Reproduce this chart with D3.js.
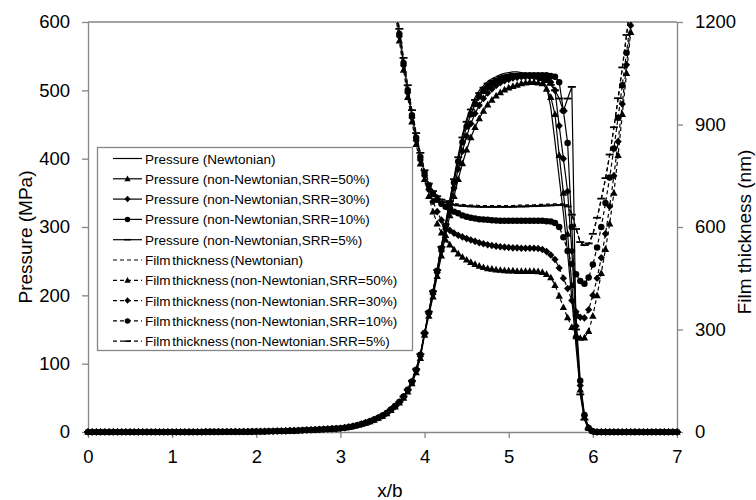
<!DOCTYPE html>
<html><head><meta charset="utf-8">
<script src="https://cdn.jsdelivr.net/npm/d3@7"></script>
<style>body{margin:0;background:#fff} svg{display:block} text{font-family:"Liberation Sans",Arial,sans-serif}</style>
</head><body><svg id="c" width="756" height="500"></svg>
<script>
// ---- data ----
const xPressure = [
0,0.05,0.1,0.15,0.2,0.25,0.3,0.35,0.4,0.45,0.5,0.55,0.6,0.65,0.7,0.75,0.8,0.85,0.9,0.95,
1,1.05,1.1,1.15,1.2,1.25,1.3,1.35,1.4,1.45,1.5,1.55,1.6,1.65,1.7,1.75,1.8,1.85,1.9,1.95,
2,2.05,2.1,2.15,2.2,2.25,2.3,2.35,2.4,2.45,2.5,2.55,2.6,2.65,2.7,2.75,2.8,2.85,2.9,2.95,
3,3.05,3.1,3.15,3.2,3.25,3.3,3.35,3.4,3.45,3.5,3.55,3.6,3.65,3.7,3.75,3.8,3.85,3.9,3.95,
4,4.05,4.1,4.15,4.2,4.25,4.3,4.35,4.4,4.45,4.5,4.55,4.6,4.65,4.7,4.75,4.8,4.85,4.9,4.95,
5,5.05,5.1,5.15,5.2,5.25,5.3,5.35,5.4,5.45,5.5,5.55,5.6,5.65,5.7,5.75,5.8,5.85,5.9,5.95,
6,6.05,6.1,6.15,6.2,6.25,6.3,6.35,6.4,6.45,6.5,6.55,6.6,6.65,6.7,6.75,6.8,6.85,6.9,6.95,7];

const pNewtonian = [
0,0,0,0,0,0,0,0,0,0,0,0,0,0,0,0,0,0,0,0,
0,0,0,0.1,0.1,0.1,0.1,0.1,0.2,0.2,0.2,0.2,0.3,0.3,0.3,0.4,0.4,0.5,0.5,0.6,
0.7,0.8,0.9,1.0,1.1,1.3,1.4,1.6,1.8,2.0,2.2,2.5,2.8,3.1,3.4,3.7,4.0,4.3,4.6,5.0,
5.5,6.3,7.3,8.5,9.9,11.6,13.6,15.8,18.2,21,24,28,33,38,44,52,62,75,92,114,
145,176,206,238,272,306,340,372,405,435,458,475,490,500,507,513,517,520,523,525,
526,527,527,526,525,523,521,518,515,505,475,425,372,320,262,195,125,60,20,4,
0,0,0,0,0,0,0,0,0,0,0,0,0,0,0,0,0,0,0,0,0];

const pSRR50 = [
0,0,0,0,0,0,0,0,0,0,0,0,0,0,0,0,0,0,0,0,
0,0,0,0.1,0.1,0.1,0.1,0.1,0.2,0.2,0.2,0.2,0.3,0.3,0.3,0.4,0.4,0.5,0.5,0.6,
0.7,0.8,0.9,1.0,1.1,1.3,1.4,1.6,1.8,2.0,2.2,2.5,2.8,3.1,3.4,3.7,4.0,4.3,4.6,5.0,
5.4,6.2,7.2,8.4,9.8,11.4,13.3,15.4,17.8,20.5,23.5,27,32,37,43,50,59,71,87,108,
142,170,198,228,258,288,317,345,370,393,413,431,446,459,470,479,486,492,497,501,
504,506,508,510,511,512,512,511,510,502,490,465,405,350,290,215,140,62,22,6,
1,0,0,0,0,0,0,0,0,0,0,0,0,0,0,0,0,0,0,0,0];

const pSRR30 = [
0,0,0,0,0,0,0,0,0,0,0,0,0,0,0,0,0,0,0,0,
0,0,0,0.1,0.1,0.1,0.1,0.1,0.2,0.2,0.2,0.2,0.3,0.3,0.3,0.4,0.4,0.5,0.5,0.6,
0.7,0.8,0.9,1.0,1.1,1.3,1.4,1.6,1.8,2.0,2.2,2.5,2.8,3.1,3.4,3.7,4.0,4.3,4.6,5.0,
5.5,6.3,7.3,8.5,9.9,11.5,13.5,15.6,18,20.8,23.8,27.5,32.5,37.5,44,51,61,73,90,111,
144,173,202,233,265,297,328,357,385,411,433,451,466,478,488,496,502,507,511,514,
516,518,519,520,520,520,520,519,518,516,512,500,448,400,352,265,155,68,24,6,
1,0,0,0,0,0,0,0,0,0,0,0,0,0,0,0,0,0,0,0,0];

const pSRR10 = [
0,0,0,0,0,0,0,0,0,0,0,0,0,0,0,0,0,0,0,0,
0,0,0,0.1,0.1,0.1,0.1,0.1,0.2,0.2,0.2,0.2,0.3,0.3,0.3,0.4,0.4,0.5,0.5,0.6,
0.7,0.8,0.9,1.0,1.1,1.3,1.4,1.6,1.8,2.0,2.2,2.5,2.8,3.1,3.4,3.7,4.0,4.3,4.6,5.0,
5.5,6.3,7.3,8.5,9.9,11.6,13.6,15.8,18.2,21,24,28,33,38,44,52,62,74,91,113,
145,175,205,236,269,302,334,365,396,424,447,465,480,491,499,505,510,513,516,518,
519,520,521,521,522,522,522,522,522,522,521,520,512,470,423,300,170,75,25,6,
1,0,0,0,0,0,0,0,0,0,0,0,0,0,0,0,0,0,0,0,0];

const pSRR5 = [
0,0,0,0,0,0,0,0,0,0,0,0,0,0,0,0,0,0,0,0,
0,0,0,0.1,0.1,0.1,0.1,0.1,0.2,0.2,0.2,0.2,0.3,0.3,0.3,0.4,0.4,0.5,0.5,0.6,
0.7,0.8,0.9,1.0,1.1,1.3,1.4,1.6,1.8,2.0,2.2,2.5,2.8,3.1,3.4,3.7,4.0,4.3,4.6,5.0,
5.5,6.3,7.3,8.5,9.9,11.6,13.6,15.8,18.2,21,24,28,33,38,44,52,62,75,92,114,
145,176,206,237,271,304,338,370,402,431,454,472,486,496,504,510,514,517,520,522,
523,524,524,524,523,521,519,517,515,512,508,500,488,470,488,505,150,55,18,4,
0,0,0,0,0,0,0,0,0,0,0,0,0,0,0,0,0,0,0,0,0];

const xFilm = [
3.55,3.6,3.65,3.7,3.75,3.8,3.85,3.9,3.95,4,
4.05,4.1,4.15,4.2,4.25,4.3,4.35,4.4,4.45,4.5,
4.55,4.6,4.65,4.7,4.75,4.8,4.85,4.9,4.95,5,
5.05,5.1,5.15,5.2,5.25,5.3,5.35,5.4,5.45,5.5,
5.55,5.6,5.65,5.7,5.75,5.8,5.85,5.9,5.95,6,
6.05,6.1,6.15,6.2,6.25,6.3,6.35,6.4,6.45,6.5];

const hNewtonian = [
1435,1348,1262,1175,1090,1010,938,872,815,767,
730,708,694,684,677,672,669,667,666,665,
664,664,663,663,663,663,663,663,663,663,
663,664,664,664,665,665,666,666,667,667,
668,668,668,665,640,598,555,545,548,578,
625,680,740,810,890,975,1065,1160,1260,1360];

const hSRR50 = [
1400,1315,1230,1145,1060,980,908,842,785,740,
690,645,610,583,563,548,534,522,512,504,
497,491,486,482,479,477,475,474,473,472,
472,471,471,471,471,471,470,468,462,452,
430,398,365,335,307,285,275,276,295,340,
400,465,535,610,700,810,930,1050,1170,1290];

const hSRR30 = [
1415,1330,1245,1158,1073,993,920,853,796,750,
710,675,645,620,602,590,582,576,571,566,
562,558,554,551,548,546,544,542,541,540,
539,539,538,538,538,538,537,534,528,518,
505,480,450,420,385,352,336,334,358,400,
450,510,580,660,750,850,960,1075,1190,1300];

const hSRR10 = [
1425,1338,1252,1165,1080,1000,927,861,805,758,
722,697,680,668,659,652,645,640,634,630,
627,625,623,622,621,620,619,618,618,618,
618,618,618,618,618,618,618,618,617,616,
612,600,570,530,492,462,442,434,452,490,
540,600,670,745,830,920,1015,1110,1210,1310];

const hSRR5 = [
1440,1352,1266,1180,1095,1015,942,875,817,766,
727,705,690,680,673,668,665,663,662,661,
660,660,659,659,659,659,659,659,659,659,
659,660,660,660,661,661,662,662,663,663,
664,664,664,660,636,594,556,547,552,580,
627,683,743,812,892,977,1067,1162,1262,1362];

const xTicks = [0,1,2,3,4,5,6,7];
const pressureTicks = [0,100,200,300,400,500,600];
const filmTicks = [0,300,600,900,1200];

const legendLabels = [
"Pressure (Newtonian)",
"Pressure (non-Newtonian,SRR=50%)",
"Pressure (non-Newtonian,SRR=30%)",
"Pressure (non-Newtonian,SRR=10%)",
"Pressure (non-Newtonian,SRR=5%)",
"Film thickness (Newtonian)",
"Film thickness (non-Newtonian,SRR=50%)",
"Film thickness (non-Newtonian.SRR=30%)",
"Film thickness (non-Newtonian,SRR=10%)",
"Film thickness (non-Newtonian.SRR=5%)"];

// ---- chart ----
const svg = d3.select('#c');
const L = 88, R = 677, T = 22, B = 432;
const GRAY = '#868686';
const x = d3.scaleLinear().domain([0,7]).range([L,R]);
const yP = d3.scaleLinear().domain([0,600]).range([B,T]);
const yH = d3.scaleLinear().domain([0,1200]).range([B,T]);

svg.append('defs').append('clipPath').attr('id','clipF')
  .append('rect').attr('x',L-10).attr('y',T).attr('width',R-L+20).attr('height',B-T+10);

const series = [
  {ys:pNewtonian, xs:xPressure, y:yP, dashed:false, marker:null},
  {ys:pSRR50, xs:xPressure, y:yP, dashed:false, marker:'tri'},
  {ys:pSRR30, xs:xPressure, y:yP, dashed:false, marker:'dia'},
  {ys:pSRR10, xs:xPressure, y:yP, dashed:false, marker:'cir'},
  {ys:pSRR5, xs:xPressure, y:yP, dashed:false, marker:'dash'},
  {ys:hNewtonian, xs:xFilm, y:yH, dashed:true, marker:null},
  {ys:hSRR50, xs:xFilm, y:yH, dashed:true, marker:'tri'},
  {ys:hSRR30, xs:xFilm, y:yH, dashed:true, marker:'dia'},
  {ys:hSRR10, xs:xFilm, y:yH, dashed:true, marker:'cir'},
  {ys:hSRR5, xs:xFilm, y:yH, dashed:true, marker:'dash'}
];
series.forEach((s,i)=>s.label = legendLabels[i]);

const markerPath = {
  tri: 'M0,-3.9L3.7,2.8L-3.7,2.8Z',
  dia: 'M0,-3.8L3.6,0L0,3.8L-3.6,0Z',
  cir: d3.symbol(d3.symbolCircle, 33)(),
  dash: 'M-4,0H4'
};
function styleMarker(sel, type){
  if(type==='dash') sel.attr('fill','none').attr('stroke','#000').attr('stroke-width',1.8);
  else sel.attr('fill','#000').attr('stroke','none');
}

// axes
const gx = svg.append('g').attr('transform',`translate(0,${B})`)
  .call(d3.axisBottom(x).tickValues(xTicks).tickSizeInner(6).tickSizeOuter(0).tickPadding(12).tickFormat(d3.format('d')));
const gyl = svg.append('g').attr('transform',`translate(${L},0)`)
  .call(d3.axisLeft(yP).tickValues(pressureTicks).tickSizeInner(6).tickSizeOuter(0).tickPadding(12).tickFormat(d3.format('d')));
const gyr = svg.append('g').attr('transform',`translate(${R},0)`)
  .call(d3.axisRight(yH).tickValues(filmTicks).tickSizeInner(6).tickSizeOuter(0).tickPadding(12).tickFormat(d3.format('d')));
[gx,gyl,gyr].forEach(g=>{
  g.select('.domain').attr('stroke',GRAY).attr('stroke-width',1.3);
  g.selectAll('.tick line').attr('stroke',GRAY).attr('stroke-width',1.3);
  g.selectAll('.tick text').attr('fill','#000').style('font-size','18.5px')
    .style('font-family','"Liberation Sans",Arial,sans-serif');
});
svg.append('line').attr('x1',L).attr('x2',R).attr('y1',T).attr('y2',T)
  .attr('stroke',GRAY).attr('stroke-width',1.3);

// titles
svg.append('text').attr('transform','translate(32,237) rotate(-90)')
  .attr('text-anchor','middle').style('font-size','19px').text('Pressure (MPa)');
svg.append('text').attr('transform','translate(751,232) rotate(-90)')
  .attr('text-anchor','middle').style('font-size','19px').text('Film thickness (nm)');
svg.append('text').attr('x',390).attr('y',497)
  .attr('text-anchor','middle').style('font-size','19px').text('x/b');

// series
const plot = svg.append('g');
series.forEach(s=>{
  const pts = s.xs.map((xv,i)=>({x:xv, y:s.ys[i]}));
  const g = plot.append('g');
  if(s.dashed) g.attr('clip-path','url(#clipF)');
  g.append('path').datum(pts)
    .attr('d', d3.line().x(d=>x(d.x)).y(d=>s.y(d.y)))
    .attr('fill','none').attr('stroke','#000').attr('stroke-width',1.2)
    .attr('stroke-dasharray', s.dashed ? '4,3' : null);
  if(s.marker){
    g.selectAll('path.m').data(pts).join('path').attr('class','m')
      .attr('d', markerPath[s.marker])
      .attr('transform', d=>`translate(${x(d.x)},${s.y(d.y)})`)
      .call(styleMarker, s.marker);
  }
});

// legend
const lg = svg.append('g');
lg.append('rect').attr('x',97.5).attr('y',147.5).attr('width',315).attr('height',203)
  .attr('fill','#fff').attr('stroke',GRAY).attr('stroke-width',1.3);
series.forEach((s,i)=>{
  const cy = 158.5 + i*20.3;
  lg.append('line').attr('x1',113).attr('x2',142).attr('y1',cy).attr('y2',cy)
    .attr('stroke','#000').attr('stroke-width',1.2)
    .attr('stroke-dasharray', s.dashed ? '4,3' : null);
  if(s.marker){
    lg.append('path').attr('d',markerPath[s.marker])
      .attr('transform',`translate(127.5,${cy}) scale(0.85)`).call(styleMarker, s.marker);
  }
  lg.append('text').attr('x',145).attr('y',cy+5).style('font-size','13.5px')
    .style('word-spacing', s.dashed ? '-2px' : null)
    .text(s.label);
});
</script></body></html>
